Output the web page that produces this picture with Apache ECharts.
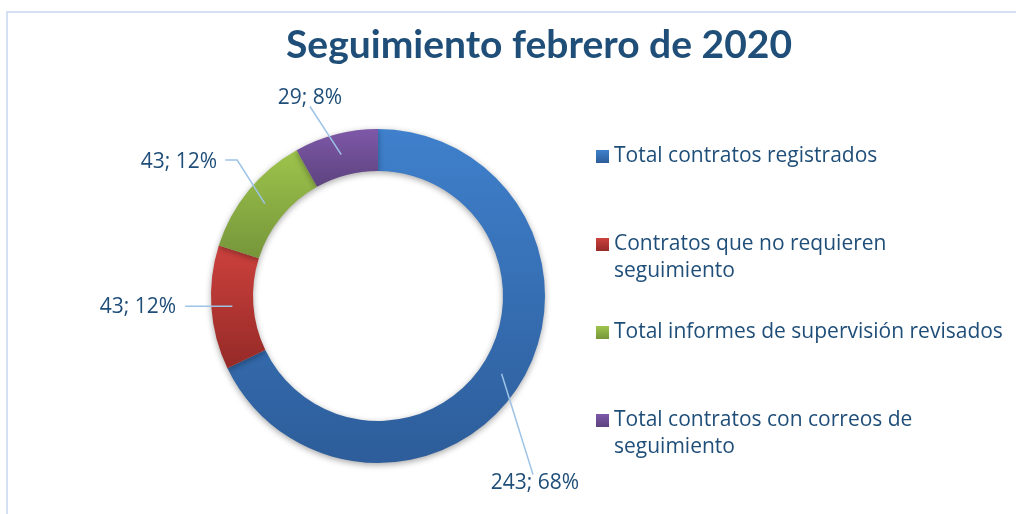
<!DOCTYPE html>
<html>
<head>
<meta charset="utf-8">
<script src="https://cdn.jsdelivr.net/npm/echarts@6/dist/echarts.min.js"></script>
<style>
  html, body { margin: 0; padding: 0; background: #fff; overflow: hidden; }
  #chart { width: 1016px; height: 514px; }
</style>
</head>
<body>
<div id="chart"></div>
<script>
// datos
const categories = [
  "Total contratos registrados",
  "Contratos que no requieren seguimiento",
  "Total informes de supervisión revisados",
  "Total contratos con correos de seguimiento"
];
const values = [243, 43, 43, 29];
// texto de la leyenda tal como aparece (con saltos de línea)
const legendLabels = [
  "Total contratos registrados",
  "Contratos que no requieren\nseguimiento",
  "Total informes de supervisión revisados",
  "Total contratos con correos de\nseguimiento"
];

const colorsTop = ["#3F80CC", "#CD413D", "#9EC44C", "#7E58A8"];
const colorsBottom = ["#2D5D9A", "#952A27", "#76963A", "#5D437F"];
// posición de las etiquetas (centro), como en la imagen original
const labelPos = [[535, 483], [138, 307], [179, 162], [310, 98]];
// de qué lado de la etiqueta sale la línea guía
const leaderSide = ["top", "right", "elbow", "bottom"];

const textColor = "#1F4E79";
const center = [378, 296];
const radius = [125, 167];

const chart = echarts.init(document.getElementById("chart"));

// punto medio del anillo en el ángulo medio de cada porción (como Excel)
const total = values.reduce((a, b) => a + b, 0);
function midRingPoint(idx) {
  let before = 0;
  for (let i = 0; i < idx; i++) before += values[i];
  const theta = ((before + values[idx] / 2) / total) * Math.PI * 2;
  const r = (radius[0] + radius[1]) / 2;
  return [center[0] + r * Math.sin(theta), center[1] - r * Math.cos(theta)];
}

chart.setOption({
  animation: false,
  graphic: [
    {
      // borde del área del gráfico
      type: "rect",
      shape: { x: 7, y: 12, width: 1100, height: 600 },
      style: { fill: null, stroke: "#D3E1F2", lineWidth: 2 },
      silent: true
    }
  ],
  title: {
    text: "Seguimiento febrero de 2020",
    left: 539,
    top: 26,
    textAlign: "center",
    padding: 0,
    textStyle: {
      fontFamily: "Lato, 'Open Sans', sans-serif",
      fontWeight: "bold",
      fontSize: 39,
      color: textColor
    }
  },
  legend: {
    orient: "vertical",
    left: 596,
    top: 143,
    padding: 0,
    itemGap: 34,
    itemWidth: 13,
    itemHeight: 13,
    icon: "rect",
    selectedMode: false,
    data: categories,
    formatter: function (name) {
      const txt = legendLabels[categories.indexOf(name)];
      // entradas de dos líneas: línea vacía delante para que la primera
      // línea quede a la altura del icono
      return txt.indexOf("\n") >= 0 ? "\n" + txt : txt;
    },
    textStyle: {
      fontFamily: "'Open Sans', sans-serif",
      fontSize: 21,
      lineHeight: 27,
      color: textColor
    }
  },
  series: [
    {
      // anillo con los colores
      type: "pie",
      center: center,
      radius: radius,
      startAngle: 90,
      clockwise: true,
      z: 2,
      itemStyle: {
        shadowBlur: 6,
        shadowOffsetY: 2,
        shadowColor: "rgba(0,0,0,0.35)"
      },
      emphasis: { disabled: true },
      label: { show: false },
      labelLine: { show: false },
      data: categories.map((name, i) => ({
        name: name,
        value: values[i],
        itemStyle: {
          color: new echarts.graphic.LinearGradient(0, 0, 0, 1, [
            { offset: 0, color: colorsTop[i] },
            { offset: 1, color: colorsBottom[i] }
          ])
        }
      }))
    },
    {
      // mismo anillo, transparente, encima: lleva etiquetas y líneas guía
      type: "pie",
      center: center,
      radius: radius,
      startAngle: 90,
      clockwise: true,
      z: 5,
      silent: true,
      legendHoverLink: false,
      percentPrecision: 0,
      avoidLabelOverlap: false,
      itemStyle: { color: "rgba(0,0,0,0)" },
      emphasis: { disabled: true },
      label: {
        show: true,
        position: "outside",
        formatter: "{c}; {d}%",
        fontFamily: "'Open Sans', sans-serif",
        fontSize: 21,
        color: textColor
      },
      labelLine: {
        show: true,
        length: 15,
        length2: 12,
        lineStyle: { color: "#9DC3E6", width: 1.5 }
      },
      labelLayout: function (params) {
        const i = params.dataIndex;
        const p = labelPos[i];
        const w = params.labelRect.width;
        const h = params.labelRect.height;
        const end = midRingPoint(i);
        let start, mid;
        if (leaderSide[i] === "top") {
          start = [p[0] - 2, p[1] - h / 2 + 2];
          mid = start;
        } else if (leaderSide[i] === "bottom") {
          start = [p[0], p[1] + h / 2 - 2];
          mid = start;
        } else if (leaderSide[i] === "elbow") {
          start = [p[0] + w / 2 + 8, p[1] - 2];
          mid = [start[0] + 12, start[1]];
        } else {
          start = [p[0] + w / 2 + 9, end[1]];
          mid = start;
        }
        return {
          x: p[0], y: p[1], align: "center", verticalAlign: "middle",
          labelLinePoints: [start, mid, end]
        };
      },
      data: categories.map((name, i) => ({ name: name, value: values[i] }))
    }
  ]
});
</script>
</body>
</html>
